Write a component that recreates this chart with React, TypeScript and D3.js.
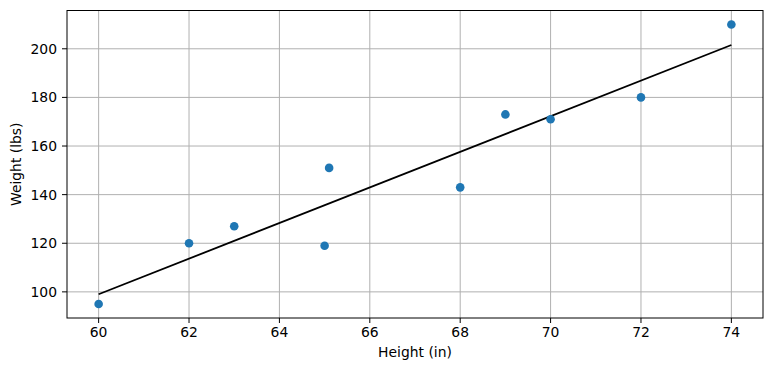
import React from "react";
import * as d3 from "d3";

const heights = [60, 62, 63, 65, 65.1, 68, 69, 70, 72, 74];
const weights = [95, 120, 127, 119, 151, 143, 173, 171, 180, 210];
const xTicks = [60, 62, 64, 66, 68, 70, 72, 74];
const yTicks = [100, 120, 140, 160, 180, 200];
const xLabel = "Height (in)";
const yLabel = "Weight (lbs)";

const W = 773, H = 371;
const M = { left: 67, right: 10, top: 10.5, bottom: 53 };

export default function App() {
  const xs = d3.scaleLinear().domain([59.3, 74.7]).range([M.left, W - M.right]);
  const ys = d3.scaleLinear().domain([89.25, 215.75]).range([H - M.bottom, M.top]);
  const mx = d3.mean(heights)!, my = d3.mean(weights)!;
  const sxy = d3.sum(heights.map((h, i) => (h - mx) * (weights[i] - my)));
  const sxx = d3.sum(heights.map((h) => (h - mx) ** 2));
  const slope = sxy / sxx, icpt = my - slope * mx;
  const x0 = d3.min(heights)!, x1 = d3.max(heights)!;
  const line = d3.line<number>().x((d) => xs(d)).y((d) => ys(icpt + slope * d));
  const font = "DejaVu Sans, sans-serif";
  const fs = 13.9;
  const bottom = H - M.bottom;
  return (
    <svg width={W} height={H} style={{ position: "absolute", left: 0, top: 0 }} fontFamily={font}>
      <rect width={W} height={H} fill="#fff" />
      {xTicks.map((t) => (
        <line key={"gx" + t} x1={xs(t)} x2={xs(t)} y1={M.top} y2={bottom} stroke="#b0b0b0" strokeWidth={1} />
      ))}
      {yTicks.map((t) => (
        <line key={"gy" + t} x1={M.left} x2={W - M.right} y1={ys(t)} y2={ys(t)} stroke="#b0b0b0" strokeWidth={1} />
      ))}
      <path d={line([x0, x1]) ?? ""} fill="none" stroke="#000" strokeWidth={1.8} />
      {heights.map((h, i) => (
        <circle key={i} cx={xs(h)} cy={ys(weights[i])} r={4.3} fill="#1f77b4" />
      ))}
      <rect x={M.left} y={M.top} width={W - M.right - M.left} height={bottom - M.top} fill="none" stroke="#000" strokeWidth={1} />
      {xTicks.map((t) => (
        <g key={"tx" + t}>
          <line x1={xs(t)} x2={xs(t)} y1={bottom} y2={bottom + 5} stroke="#000" />
          <text x={xs(t)} y={bottom + 19} textAnchor="middle" fontSize={fs}>{t}</text>
        </g>
      ))}
      {yTicks.map((t) => (
        <g key={"ty" + t}>
          <line x1={M.left - 5} x2={M.left} y1={ys(t)} y2={ys(t)} stroke="#000" />
          <text x={M.left - 10} y={ys(t)} dy="0.36em" textAnchor="end" fontSize={fs}>{t}</text>
        </g>
      ))}
      <text x={(M.left + W - M.right) / 2} y={357} textAnchor="middle" fontSize={fs}>{xLabel}</text>
      <text transform={`translate(20.5,${(M.top + bottom) / 2}) rotate(-90)`} textAnchor="middle" fontSize={fs}>{yLabel}</text>
    </svg>
  );
}
